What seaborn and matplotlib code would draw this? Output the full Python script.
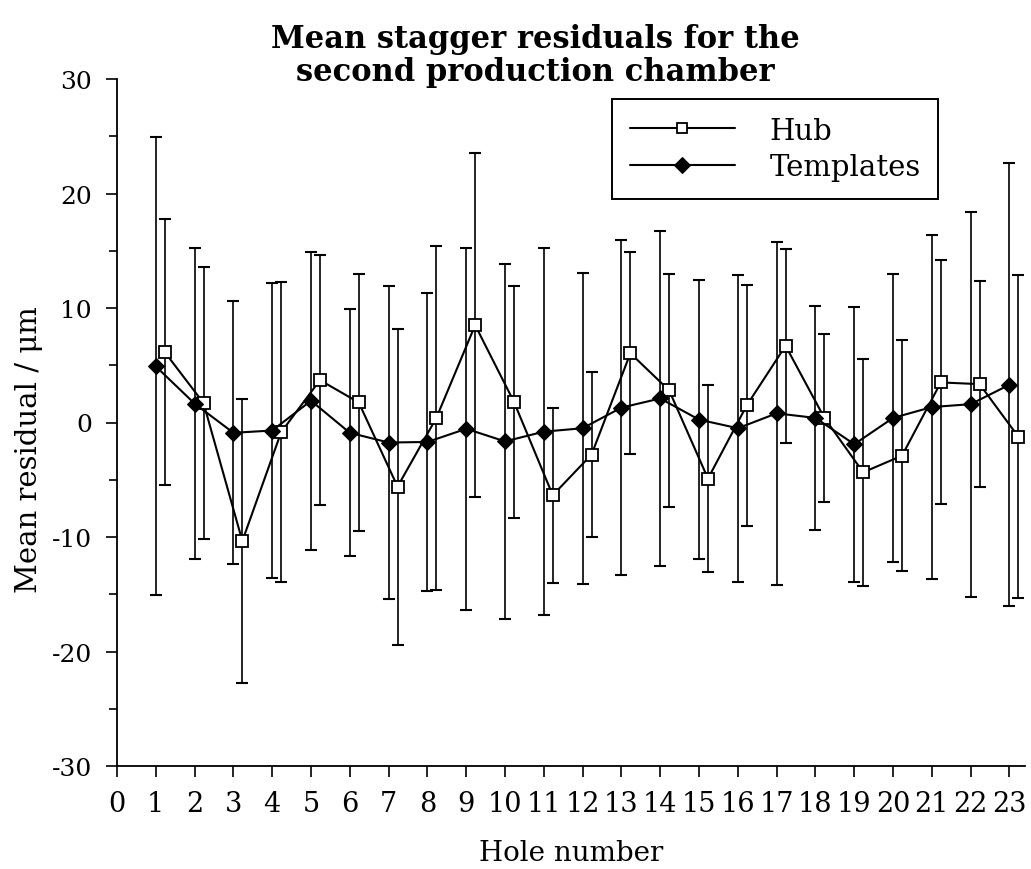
import numpy as np
import pandas as pd
import seaborn as sns
import matplotlib
matplotlib.use("Agg")
import matplotlib.pyplot as plt
from matplotlib.ticker import MultipleLocator

# ---- data ----
holes = list(range(1, 24))
hub_mean = [6.15, 1.7, -10.35, -0.85, 3.7, 1.75, -5.6, 0.4, 8.5, 1.8, -6.35, -2.8,
            6.05, 2.8, -4.9, 1.5, 6.7, 0.4, -4.35, -2.9, 3.5, 3.35, -1.25]
hub_err = [11.65, 11.85, 12.4, 13.1, 10.9, 11.2, 13.8, 15.0, 15.05, 10.1, 7.65, 7.2,
           8.8, 10.15, 8.2, 10.5, 8.45, 7.3, 9.9, 10.1, 10.65, 9.0, 14.1]
tpl_mean = [4.9, 1.65, -0.9, -0.7, 1.9, -0.9, -1.75, -1.7, -0.55, -1.65, -0.8, -0.5,
            1.3, 2.1, 0.25, -0.5, 0.8, 0.4, -1.9, 0.4, 1.35, 1.6, 3.3]
tpl_err = [20.0, 13.55, 11.5, 12.9, 13.0, 10.8, 13.7, 13.0, 15.8, 15.5, 16.0, 13.6,
           14.6, 14.6, 12.2, 13.4, 14.95, 9.8, 12.0, 12.6, 15.05, 16.8, 19.35]
series_names = ["Hub", "Templates"]
xticks = list(range(0, 24))
yticks = [-30, -20, -10, 0, 10, 20, 30]

hub_offset = 0.23
tpl_offset = 0.0

sns.set_theme(style="ticks")
plt.rcParams["font.family"] = ["DejaVu Serif"]
plt.rcParams["axes.linewidth"] = 1.3
plt.rcParams["text.color"] = "black"
plt.rcParams["axes.labelcolor"] = "black"
plt.rcParams["xtick.color"] = "black"
plt.rcParams["ytick.color"] = "black"
plt.rcParams["axes.edgecolor"] = "black"

fig = plt.figure(figsize=(10.31, 8.70), dpi=100)
ax = fig.add_axes([117 / 1031, 1 - 767 / 870, (1025 - 117) / 1031, (767 - 80) / 870])

df = pd.DataFrame({
    "hole": [h + hub_offset for h in holes] + [h + tpl_offset for h in holes],
    "mean": hub_mean + tpl_mean,
    "series": [series_names[0]] * len(holes) + [series_names[1]] * len(holes),
})

# error bars
ax.errorbar([h + hub_offset for h in holes], hub_mean, yerr=hub_err, fmt="none",
            ecolor="black", elinewidth=1.2, capsize=4.5, capthick=1.5, zorder=1)
ax.errorbar([h + tpl_offset for h in holes], tpl_mean, yerr=tpl_err, fmt="none",
            ecolor="black", elinewidth=1.2, capsize=4.5, capthick=1.5, zorder=1)

sns.lineplot(data=df[df.series == "Hub"], x="hole", y="mean", ax=ax, color="black",
             lw=1.5, marker="s", markersize=8.5, markerfacecolor="white",
             markeredgecolor="black", markeredgewidth=1.3, label="Hub", zorder=3,
             sort=False)
sns.lineplot(data=df[df.series == "Templates"], x="hole", y="mean", ax=ax, color="black",
             lw=1.5, marker="D", markersize=8.5, markerfacecolor="black",
             markeredgecolor="black", label="Templates", zorder=4, sort=False)

ax.set_xlim(0, 23.4)
ax.set_ylim(-30, 30)
ax.set_xticks(xticks)
ax.set_xticklabels([str(t) for t in xticks])
ax.set_yticks(yticks)
ax.set_yticklabels([str(t) for t in yticks])
ax.yaxis.set_minor_locator(MultipleLocator(5))
sns.despine(ax=ax)

ax.tick_params(axis="x", which="major", direction="out", length=8, width=1.2,
               pad=9, labelsize=19.5)
ax.tick_params(axis="y", which="major", direction="out", length=8, width=1.2,
               pad=10, labelsize=18)
ax.tick_params(axis="y", which="minor", direction="out", length=6, width=1.2)

ax.set_xlabel("Hole number", fontsize=20)
ax.set_ylabel("Mean residual / μm", fontsize=21)
ax.xaxis.set_label_coords(0.5, -0.106)
ax.yaxis.set_label_coords(-0.082, 0.462)

fig.text(535 / 1031, 1 - 56 / 870,
         "Mean stagger residuals for the\nsecond production chamber",
         ha="center", va="center", fontsize=22, fontweight="bold",
         linespacing=1.05)

leg = ax.legend(loc="upper left", bbox_to_anchor=(612 / 1031, 1 - 100 / 870),
                bbox_transform=fig.transFigure, borderaxespad=0, fontsize=21,
                handlelength=3.6, handletextpad=1.2, labelspacing=0.3,
                borderpad=0.6, fancybox=False, frameon=True, markerscale=0.9,
                framealpha=1.0)
leg.get_frame().set_edgecolor("black")
leg.get_frame().set_linewidth(1.4)
for t in leg.get_texts():
    t.set_color("black")

fig.savefig("out.png", dpi=100, facecolor="white")
